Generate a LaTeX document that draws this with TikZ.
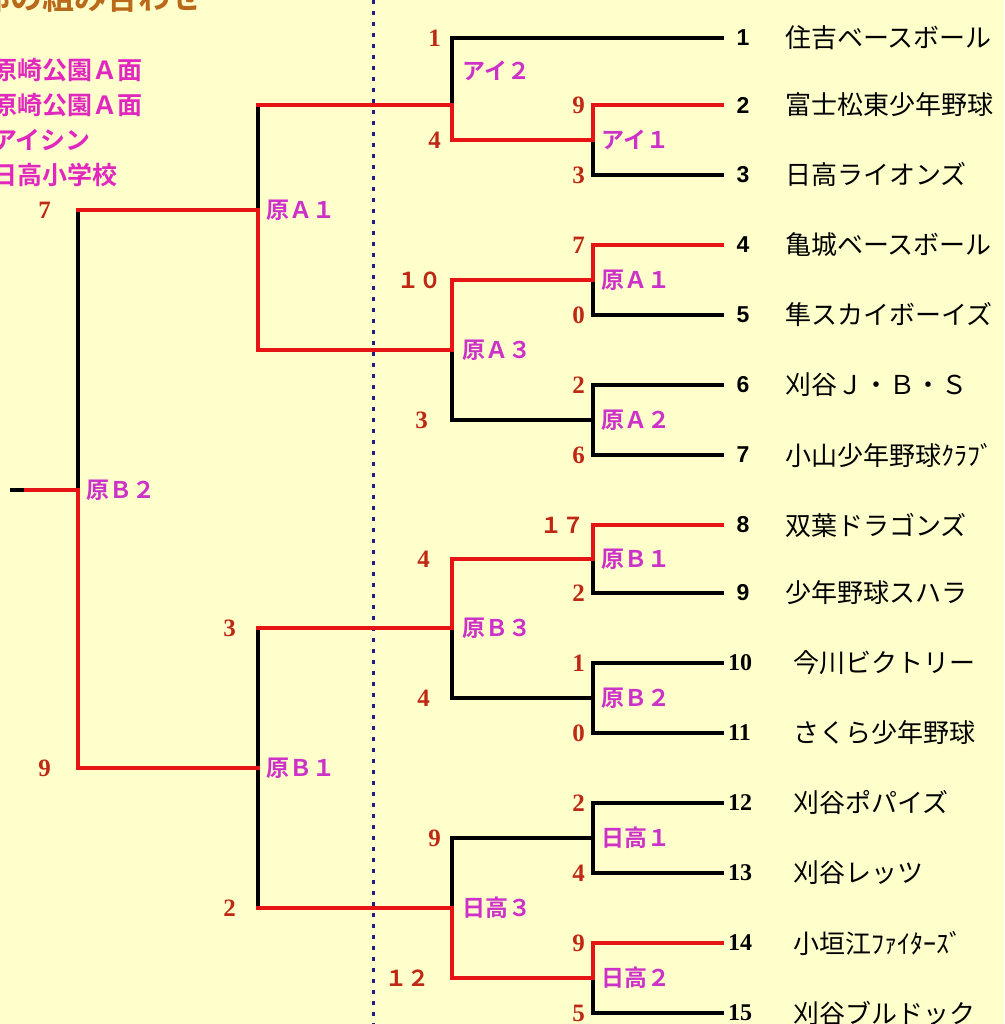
\documentclass[tikz,border=0pt]{standalone}
\usepackage{fontspec}
\setmainfont{Noto Sans CJK JP}[BoldFont={Noto Sans CJK JP Bold}]
\newfontfamily\serifnum{Liberation Serif}
\newfontfamily\sansnum{Liberation Sans}
\usetikzlibrary{positioning}
\definecolor{paper}{RGB}{255,255,204}
\definecolor{winred}{RGB}{230,20,20}
\definecolor{scorered}{RGB}{190,40,20}
\definecolor{matchpink}{RGB}{205,50,200}
\definecolor{venuepink}{RGB}{225,40,190}
\definecolor{titlebrown}{RGB}{185,105,25}
\definecolor{divider}{RGB}{30,30,130}

\begin{document}
\begin{tikzpicture}[x=1pt, y=-1pt
    , lose/.style={line width=4pt, black, line cap=rect}
    , win/.style={line width=4pt, winred, line cap=rect}
    , score/.style={anchor=east, inner sep=0pt, text=scorered, font=\serifnum\fontsize{25}{25}\bfseries\selectfont}
    , wide score/.style={score, font=\fontsize{22}{22}\bfseries\selectfont}
    , match/.style={inner sep=0pt, text=matchpink, font=\fontsize{23}{23}\bfseries\selectfont}
    , venue/.style={anchor=west, inner sep=0pt, text=venuepink, font=\fontsize{25}{25}\bfseries\selectfont}
    , seed/.style={inner sep=0pt, font=\sansnum\fontsize{23}{23}\bfseries\selectfont}
    , seed2/.style={inner sep=0pt, font=\serifnum\fontsize{24}{24}\bfseries\selectfont}
    , team/.style={inner sep=0pt, font=\fontsize{26}{26}\selectfont}
    ]
    \fill[paper] (0,0) rectangle (1004,1024);
    \useasboundingbox (0,0) rectangle (1004,1024);

    % title and venues
    \node[anchor=west, inner sep=0pt, text=titlebrown, font=\fontsize{32}{32}\bfseries\selectfont] (title) at (-22,-3) {部の組み合わせ};
    \node[venue] (v1) at (-8,70) {原崎公園Ａ面};
    \node[venue] (v2) at (-8,105) {原崎公園Ａ面};
    \node[venue] (v3) at (-8,140) {アイシン};
    \node[venue] (v4) at (-8,175) {日高小学校};

    \draw[divider, line width=3pt, dash pattern=on 4pt off 7pt] (373,0) -- (373,1024);

    % teams
    \foreach \i/\y/\name in {1/38/住吉ベースボール, 2/105/富士松東少年野球, 3/175/日高ライオンズ,
        4/245/亀城ベースボール, 5/315/隼スカイボーイズ, 6/385/刈谷Ｊ・Ｂ・Ｓ, 7/455/小山少年野球ｸﾗﾌﾞ,
        8/525/双葉ドラゴンズ, 9/593/少年野球スハラ}
    {
      \coordinate (t\i) at (722,\y);
      \node[seed, anchor=center] (n\i) at (743,\y) {\i};
      \node[team, anchor=west] (name\i) at (785,\y) {\name};
    }
    \foreach \i/\y/\name in {10/663/今川ビクトリー, 11/733/さくら少年野球, 12/803/刈谷ポパイズ,
        13/873/刈谷レッツ, 14/943/小垣江ﾌｧｲﾀｰｽﾞ, 15/1013/刈谷ブルドック}
    {
      \coordinate (t\i) at (722,\y);
      \node[seed2, right=6pt of t\i] (n\i) {\i};
      \node[team, anchor=west] (name\i) at (793,\y) {\name};
    }

    % junctions
    \coordinate (ai1) at (593,140);
    \coordinate (ga1) at (593,280);
    \coordinate (ga2) at (593,420);
    \coordinate (gb1) at (593,559);
    \coordinate (gb2) at (593,698);
    \coordinate (hi1) at (593,838);
    \coordinate (hi2) at (593,978);
    \coordinate (ai2) at (452,105);
    \coordinate (ga3) at (452,350);
    \coordinate (gb3) at (452,628);
    \coordinate (hi3) at (452,908);
    \coordinate (sfa) at (258,210);
    \coordinate (sfb) at (258,768);
    \coordinate (fin) at (78,490);
    \coordinate (tip) at (22,490);
    \coordinate (champ) at (12,490);

    % first round
    \draw[win] (ai1) |- (t2);  \draw[lose] (ai1) |- (t3);
    \draw[win] (ga1) |- (t4);  \draw[lose] (ga1) |- (t5);
    \draw[lose] (ga2) |- (t6); \draw[lose] (ga2) |- (t7);
    \draw[win] (gb1) |- (t8);  \draw[lose] (gb1) |- (t9);
    \draw[lose] (gb2) |- (t10); \draw[lose] (gb2) |- (t11);
    \draw[lose] (hi1) |- (t12); \draw[lose] (hi1) |- (t13);
    \draw[win] (hi2) |- (t14); \draw[lose] (hi2) |- (t15);

    % second round
    \draw[lose] (ai2) |- (t1);  \draw[win] (ai2) |- (ai1);
    \draw[win] (ga3) |- (ga1);  \draw[lose] (ga3) |- (ga2);
    \draw[win] (gb3) |- (gb1);  \draw[lose] (gb3) |- (gb2);
    \draw[lose] (hi3) |- (hi1); \draw[win] (hi3) |- (hi2);

    % semi finals
    \draw[lose] (sfa) -- (sfa |- ai2); \draw[win] (sfa |- ai2) -- (ai2);
    \draw[win] (sfa) |- (ga3);
    \draw[lose] (sfb) -- (sfb |- gb3); \draw[win] (sfb |- gb3) -- (gb3);
    \draw[lose] (sfb) -- (sfb |- hi3); \draw[win] (sfb |- hi3) -- (hi3);

    % final
    \draw[lose] (fin) -- (fin |- sfa); \draw[win] (fin |- sfa) -- (sfa);
    \draw[win] (fin) |- (sfb);
    \draw[win] (fin) -- (tip); \draw[lose] (tip) -- (champ);

    % match names
    \node[match, right=8pt of ai1] (ai1 name) {アイ１};
    \node[match, above right=24pt and 10pt of ai2] (ai2 name) {アイ２};
    \node[match, right=8pt of ga1] (ga1 name) {原Ａ１};
    \node[match, right=8pt of ga2] (ga2 name) {原Ａ２};
    \node[match, right=10pt of ga3] (ga3 name) {原Ａ３};
    \node[match, right=8pt of gb1] (gb1 name) {原Ｂ１};
    \node[match, right=8pt of gb2] (gb2 name) {原Ｂ２};
    \node[match, right=10pt of gb3] (gb3 name) {原Ｂ３};
    \node[match, right=8pt of hi1] (hi1 name) {日高１};
    \node[match, right=8pt of hi2] (hi2 name) {日高２};
    \node[match, right=10pt of hi3] (hi3 name) {日高３};
    \node[match, right=8pt of sfa] (sfa name) {原Ａ１};
    \node[match, right=8pt of sfb] (sfb name) {原Ｂ１};
    \node[match, right=8pt of fin] (fin name) {原Ｂ２};

    % scores
    \node[score] (s1) at (441,38) {1};
    \node[score] (s2) at (441,140) {4};
    \node[score] (s3) at (585,105) {9};
    \node[score] (s4) at (585,175) {3};
    \node[score] (s5) at (585,245) {7};
    \node[score] (s6) at (585,315) {0};
    \node[wide score] (s7) at (442,280) {１０};
    \node[score] (s8) at (428,420) {3};
    \node[score] (s9) at (585,385) {2};
    \node[score] (s10) at (585,455) {6};
    \node[score] (s11) at (51,210) {7};
    \node[score] (s12) at (51,768) {9};
    \node[wide score] (s13) at (585,525) {１７};
    \node[score] (s14) at (585,593) {2};
    \node[score] (s15) at (430,559) {4};
    \node[score] (s16) at (430,698) {4};
    \node[score] (s17) at (585,663) {1};
    \node[score] (s18) at (585,733) {0};
    \node[score] (s19) at (236,628) {3};
    \node[score] (s20) at (236,908) {2};
    \node[score] (s21) at (585,803) {2};
    \node[score] (s22) at (585,873) {4};
    \node[score] (s23) at (441,838) {9};
    \node[wide score] (s24) at (430,978) {１２};
    \node[score] (s25) at (585,943) {9};
    \node[score] (s26) at (585,1013) {5};
  \end{tikzpicture}
\end{document}
